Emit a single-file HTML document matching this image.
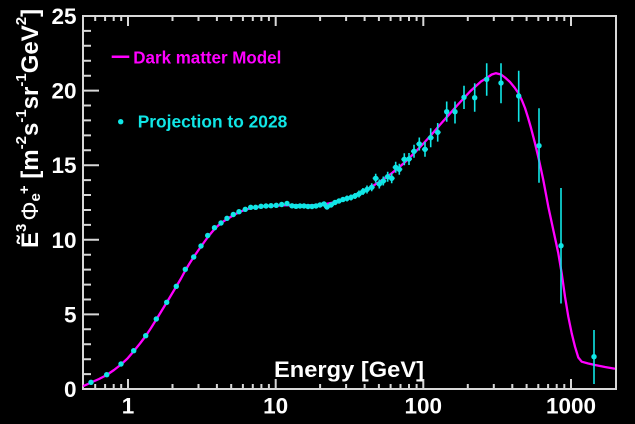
<!DOCTYPE html>
<html><head><meta charset="utf-8"><style>
html,body{margin:0;padding:0;background:#000;}
svg{display:block;}
text{font-family:"Liberation Sans","DejaVu Sans",sans-serif;}
</style></head><body>
<svg width="635" height="424" viewBox="0 0 635 424" xmlns="http://www.w3.org/2000/svg">
<rect width="635" height="424" fill="#000"/>
<g stroke="#d8d8d8" stroke-width="2" fill="none">
<path d="M83,16 L616,16 L616,389 L83,389 Z"/>
<path d="M83,389h16M83,314.4h16M83,239.8h16M83,165.2h16M83,90.6h16"/>
<path d="M83,374.1h8M83,359.2h8M83,344.2h8M83,329.3h8M83,299.5h8M83,284.6h8M83,269.6h8M83,254.7h8M83,224.9h8M83,210h8M83,195h8M83,180.1h8M83,150.3h8M83,135.4h8M83,120.4h8M83,105.5h8M83,75.7h8M83,60.8h8M83,45.8h8M83,30.9h8"/>
<path d="M128,389v-10M275.7,389v-10M423.3,389v-10M571,389v-10"/>
<path d="M95.2,389v-5M105.1,389v-5M113.7,389v-5M121.2,389v-5M172.5,389v-5M198.5,389v-5M216.9,389v-5M231.2,389v-5M242.9,389v-5M252.8,389v-5M261.4,389v-5M268.9,389v-5M320.1,389v-5M346.1,389v-5M364.6,389v-5M378.9,389v-5M390.6,389v-5M400.5,389v-5M409,389v-5M416.6,389v-5M467.8,389v-5M493.8,389v-5M512.3,389v-5M526.6,389v-5M538.3,389v-5M548.1,389v-5M556.7,389v-5M564.3,389v-5"/>
<path d="M128,16v10M275.7,16v10M423.3,16v10M571,16v10"/>
<path d="M95.2,16v5M105.1,16v5M113.7,16v5M121.2,16v5M172.5,16v5M198.5,16v5M216.9,16v5M231.2,16v5M242.9,16v5M252.8,16v5M261.4,16v5M268.9,16v5M320.1,16v5M346.1,16v5M364.6,16v5M378.9,16v5M390.6,16v5M400.5,16v5M409,16v5M416.6,16v5M467.8,16v5M493.8,16v5M512.3,16v5M526.6,16v5M538.3,16v5M548.1,16v5M556.7,16v5M564.3,16v5"/>
</g>
<g fill="#fff" font-size="22.5" font-weight="bold" text-anchor="end">
<text x="76.5" y="397">0</text>
<text x="76.5" y="322.4">5</text>
<text x="76.5" y="247.8">10</text>
<text x="76.5" y="173.2">15</text>
<text x="76.5" y="98.6">20</text>
<text x="76.5" y="24">25</text>
</g>
<g fill="#fff" font-size="22.5" font-weight="bold" text-anchor="middle">
<text x="128" y="413.5">1</text>
<text x="275.7" y="413.5">10</text>
<text x="423.3" y="413.5">100</text>
<text x="571" y="413.5">1000</text>
</g>
<text x="274" y="377" fill="#fff" font-size="22.5" font-weight="bold" textLength="150" lengthAdjust="spacingAndGlyphs">Energy [GeV]</text>
<text transform="translate(38,248) rotate(-90)" fill="#fff" font-size="24" font-weight="bold">Ẽ<tspan font-size="15" dy="-12">3</tspan><tspan font-weight="normal" dy="12" dx="3">Φ</tspan><tspan font-size="15" dy="2">e</tspan><tspan font-size="15" dy="-11" dx="-1">+</tspan><tspan dy="9"> [m</tspan><tspan font-size="15" dy="-12">-2</tspan><tspan dy="12">s</tspan><tspan font-size="15" dy="-12">-1</tspan><tspan dy="12">sr</tspan><tspan font-size="15" dy="-12">-1</tspan><tspan dy="12">GeV</tspan><tspan font-size="15" dy="-12">2</tspan><tspan dy="12">]</tspan></text>
<line x1="111.7" y1="56.7" x2="129.3" y2="56.7" stroke="#ff00ff" stroke-width="2.5"/>
<text x="133.3" y="63.3" fill="#ff00ff" font-size="17.5" font-weight="bold" textLength="148" lengthAdjust="spacingAndGlyphs">Dark matter Model</text>
<circle cx="120.7" cy="121.7" r="2.7" fill="#10e6e6"/>
<text x="137.7" y="127.7" fill="#10e6e6" font-size="17.5" font-weight="bold" textLength="149.6" lengthAdjust="spacingAndGlyphs">Projection to 2028</text>
<polyline fill="none" stroke="#ff00ff" stroke-width="2.3" stroke-linejoin="round" points="83,386.2 88,384 91,382.5 99,379 106.7,375 114,370 121,364.5 127.5,358.5 133.7,351.2 140,343.5 145.7,336 151,328 156.3,319.5 161.5,311 166.7,302.5 171.5,294.5 176.3,286.5 181,278.5 185.3,270.5 189.5,263.5 193.7,257 197.5,251.5 201,246.5 205,241 208.3,236.5 212,232 215,228.5 218,225.7 221,223.3 224,221 227.3,219 230.5,217 233.3,215.3 236,213.8 239,212.3 242,211 245.3,209.8 250.7,208.2 256,207.3 261,206.7 266,206.3 271,206 276,205.7 281.7,205.4 287,205.2 293,205.2 300,205.3 307,205.4 314,205.2 320,204.8 326,204 332,202.8 338,201.2 344,199.2 350,197 356,194.5 362,191.7 368,188.6 374,185.2 380,181.5 386,177.5 392,173 398,168.2 404,163 410,157.3 416,151.3 422,145 428,138.5 434,131.7 440,124.8 446,118 452,111.2 458,104.5 464,98 470,91.5 476,86 481,81.5 486.7,78 491.7,74.5 496,73.2 501,74.5 505,77.5 510,82 514.5,87.5 518.7,93.5 522,100.5 525,108 528,117.5 531,128 535,143.3 539,160 543.3,180 548.3,206.7 553.3,230 558.3,253.3 561.7,273.3 565,296.7 568.3,316.7 571.7,333.3 575,346.7 578.3,357.5 581.7,361.7 588.3,363.5 595,365 605,367 615,368.7"/>
<g stroke="#10e6e6" stroke-width="1.6" fill="none">
<path d="M292,204.3v3M296,204.8v3M300,204.5v3M304,204.5v3M308,205v3M312,204.5v4M316,204v4M320,203v4M324,202v4M327,205v4M331,203v4M335,200v5M339,198.5v5M343,197v5M347,195.5v6M351,194.5v6M355,193v6M359,190.5v7M363,188v7M367,185.5v8M371.7,183.3v8M375.7,173.8v9M379.3,179.5v9M383.3,176.5v9M387.7,171.7v10M391.7,173.3v10M395.7,161.8v11M399.3,163.8v11M404.3,153.3v12M409,153v12M414,144.8v13M419.3,137.5v13M425,141.8v15M430.7,128.2v19M437.7,123v18.6"/>
<path d="M289,205.8h6M293,206.3h6M297,206h6M301,206h6M305,206.5h6M309,206.5h6M313,206h6M317,205h6M321,204h6M324,207h6M328,205h6M332,202.5h6M336,201h6M340,199.5h6M344,198.5h6M348,197.5h6M352,196h6M356,194h6M360,191.5h6M364,189.5h6M368.7,187.3h6M372.7,178.3h6M376.3,184h6M380.3,181h6M384.7,176.7h6M388.7,178.3h6M392.7,167.3h6M396.3,169.3h6M401.3,159.3h6M406,159h6M411,151.3h6M416.3,144h6M422,149.3h6M427.7,137.7h6M434.7,132.3h6"/>
<path d="M446.7,101.5V121.7M455,101.5V123.5M464,85.7V109M474.7,83.3V111.7M486.7,63.3V95.7M501,63.3V103.3M518.7,70.7V121.7M539,108.3V182.7M561,188V303.5M594,330V384"/>
</g>
<g fill="#10e6e6">
<circle cx="91" cy="382.3" r="2.7"/>
<circle cx="106.7" cy="374.7" r="2.7"/>
<circle cx="121" cy="364" r="2.7"/>
<circle cx="133.7" cy="350.7" r="2.7"/>
<circle cx="145.7" cy="335.7" r="2.7"/>
<circle cx="156.3" cy="319" r="2.7"/>
<circle cx="166.7" cy="302.3" r="2.7"/>
<circle cx="176.3" cy="286.3" r="2.7"/>
<circle cx="185.3" cy="269.3" r="2.7"/>
<circle cx="193.7" cy="257" r="2.7"/>
<circle cx="201" cy="246" r="2.7"/>
<circle cx="207.7" cy="235.5" r="2.7"/>
<circle cx="214.5" cy="227.7" r="2.7"/>
<circle cx="221" cy="223" r="2.7"/>
<circle cx="227" cy="218.3" r="2.7"/>
<circle cx="233.3" cy="214.5" r="2.7"/>
<circle cx="239" cy="211.7" r="2.7"/>
<circle cx="245.3" cy="209.3" r="2.7"/>
<circle cx="250.7" cy="207.3" r="2.7"/>
<circle cx="255.7" cy="207.3" r="2.7"/>
<circle cx="261" cy="206.3" r="2.7"/>
<circle cx="266" cy="206" r="2.7"/>
<circle cx="271" cy="205.7" r="2.7"/>
<circle cx="276.3" cy="205.3" r="2.7"/>
<circle cx="281.7" cy="204.5" r="2.7"/>
<circle cx="287" cy="203.5" r="2.7"/>
<circle cx="292" cy="205.8" r="2.7"/>
<circle cx="296" cy="206.3" r="2.7"/>
<circle cx="300" cy="206" r="2.7"/>
<circle cx="304" cy="206" r="2.7"/>
<circle cx="308" cy="206.5" r="2.7"/>
<circle cx="312" cy="206.5" r="2.7"/>
<circle cx="316" cy="206" r="2.7"/>
<circle cx="320" cy="205" r="2.7"/>
<circle cx="324" cy="204" r="2.7"/>
<circle cx="327" cy="207" r="2.7"/>
<circle cx="331" cy="205" r="2.7"/>
<circle cx="335" cy="202.5" r="2.7"/>
<circle cx="339" cy="201" r="2.7"/>
<circle cx="343" cy="199.5" r="2.7"/>
<circle cx="347" cy="198.5" r="2.7"/>
<circle cx="351" cy="197.5" r="2.7"/>
<circle cx="355" cy="196" r="2.7"/>
<circle cx="359" cy="194" r="2.7"/>
<circle cx="363" cy="191.5" r="2.7"/>
<circle cx="367" cy="189.5" r="2.7"/>
<circle cx="371.7" cy="187.3" r="2.7"/>
<circle cx="375.7" cy="178.3" r="2.7"/>
<circle cx="379.3" cy="184" r="2.7"/>
<circle cx="383.3" cy="181" r="2.7"/>
<circle cx="387.7" cy="176.7" r="2.7"/>
<circle cx="391.7" cy="178.3" r="2.7"/>
<circle cx="395.7" cy="167.3" r="2.7"/>
<circle cx="399.3" cy="169.3" r="2.7"/>
<circle cx="404.3" cy="159.3" r="2.7"/>
<circle cx="409" cy="159" r="2.7"/>
<circle cx="414" cy="151.3" r="2.7"/>
<circle cx="419.3" cy="144" r="2.7"/>
<circle cx="425" cy="149.3" r="2.7"/>
<circle cx="430.7" cy="137.7" r="2.7"/>
<circle cx="437.7" cy="132.3" r="2.7"/>
<circle cx="446.7" cy="111.7" r="2.7"/>
<circle cx="455" cy="111.7" r="2.7"/>
<circle cx="464" cy="97.3" r="2.7"/>
<circle cx="474.7" cy="97.7" r="2.7"/>
<circle cx="486.7" cy="79.3" r="2.7"/>
<circle cx="501" cy="83" r="2.7"/>
<circle cx="518.7" cy="96" r="2.7"/>
<circle cx="539" cy="145.7" r="2.7"/>
<circle cx="561" cy="245.7" r="2.7"/>
<circle cx="594" cy="356.7" r="2.7"/>
</g>
</svg>
</body></html>
